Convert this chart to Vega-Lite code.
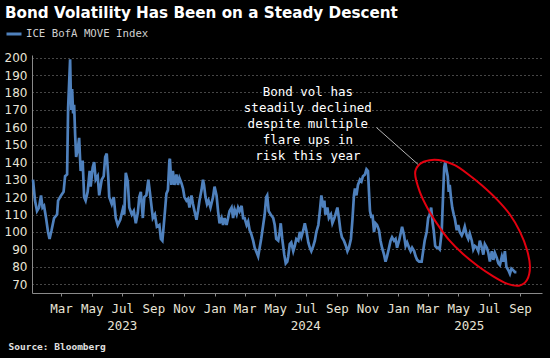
{
  "$schema": "https://vega.github.io/schema/vega-lite/v6.json",
  "width": 510,
  "height": 238,
  "autosize": {"type": "none"},
  "padding": {"left": 32, "top": 55, "right": 8, "bottom": 65},
  "background": "#000000",
  "title": {
    "text": "Bond Volatility Has Been on a Steady Descent",
    "anchor": "start",
    "frame": "group",
    "dx": -27,
    "offset": 4,
    "font": "DejaVu Sans",
    "fontSize": 15.2,
    "fontWeight": "bold",
    "color": "#ffffff"
  },
  "config": {
    "view": {"stroke": null},
    "axisX": {
      "grid": false,
      "domainColor": "#8a8a8a",
      "tickColor": "#8a8a8a",
      "tickSize": 3,
      "labelFont": "DejaVu Sans Mono",
      "labelFontSize": 12.5,
      "labelColor": "#e8e4d6",
      "labelPadding": 6,
      "labelFlush": false,
      "labelOverlap": false
    },
    "axisY": {
      "domainColor": "#8a8a8a",
      "labelFont": "DejaVu Sans",
      "labelFontSize": 12,
      "labelColor": "#e8e4d6"
    }
  },
  "datasets": {
    "move": [
      {"date": "2023-01-04", "v": 130}, {"date": "2023-01-08", "v": 118}, {"date": "2023-01-12", "v": 112}, {"date": "2023-01-16", "v": 114},
      {"date": "2023-01-20", "v": 121}, {"date": "2023-01-23", "v": 114}, {"date": "2023-01-26", "v": 115}, {"date": "2023-01-30", "v": 108},
      {"date": "2023-02-03", "v": 100}, {"date": "2023-02-06", "v": 96}, {"date": "2023-02-10", "v": 101}, {"date": "2023-02-15", "v": 108},
      {"date": "2023-02-21", "v": 110}, {"date": "2023-02-23", "v": 118}, {"date": "2023-03-01", "v": 121}, {"date": "2023-03-06", "v": 123},
      {"date": "2023-03-09", "v": 132}, {"date": "2023-03-13", "v": 133}, {"date": "2023-03-15", "v": 171}, {"date": "2023-03-19", "v": 199},
      {"date": "2023-03-21", "v": 170}, {"date": "2023-03-23", "v": 182}, {"date": "2023-03-25", "v": 168}, {"date": "2023-03-27", "v": 173},
      {"date": "2023-03-29", "v": 156}, {"date": "2023-03-31", "v": 143}, {"date": "2023-04-03", "v": 147}, {"date": "2023-04-06", "v": 154},
      {"date": "2023-04-08", "v": 141}, {"date": "2023-04-09", "v": 135}, {"date": "2023-04-13", "v": 141}, {"date": "2023-04-16", "v": 120},
      {"date": "2023-04-19", "v": 118}, {"date": "2023-04-23", "v": 123}, {"date": "2023-04-27", "v": 135}, {"date": "2023-04-29", "v": 126},
      {"date": "2023-05-03", "v": 137}, {"date": "2023-05-06", "v": 140}, {"date": "2023-05-09", "v": 130}, {"date": "2023-05-13", "v": 132},
      {"date": "2023-05-16", "v": 121}, {"date": "2023-05-21", "v": 130}, {"date": "2023-05-25", "v": 132}, {"date": "2023-05-28", "v": 143},
      {"date": "2023-05-31", "v": 145}, {"date": "2023-06-03", "v": 132}, {"date": "2023-06-05", "v": 120}, {"date": "2023-06-10", "v": 116},
      {"date": "2023-06-14", "v": 120}, {"date": "2023-06-18", "v": 108}, {"date": "2023-06-22", "v": 104}, {"date": "2023-06-27", "v": 107},
      {"date": "2023-07-02", "v": 113}, {"date": "2023-07-05", "v": 110}, {"date": "2023-07-08", "v": 134}, {"date": "2023-07-12", "v": 129},
      {"date": "2023-07-15", "v": 114}, {"date": "2023-07-20", "v": 110}, {"date": "2023-07-24", "v": 112}, {"date": "2023-07-28", "v": 105},
      {"date": "2023-08-01", "v": 111}, {"date": "2023-08-04", "v": 120}, {"date": "2023-08-07", "v": 123}, {"date": "2023-08-11", "v": 108},
      {"date": "2023-08-14", "v": 120}, {"date": "2023-08-18", "v": 121}, {"date": "2023-08-22", "v": 130}, {"date": "2023-08-25", "v": 123},
      {"date": "2023-08-27", "v": 118}, {"date": "2023-08-31", "v": 108}, {"date": "2023-09-04", "v": 110}, {"date": "2023-09-08", "v": 103},
      {"date": "2023-09-13", "v": 104}, {"date": "2023-09-16", "v": 96}, {"date": "2023-09-19", "v": 95}, {"date": "2023-09-23", "v": 108},
      {"date": "2023-09-27", "v": 122}, {"date": "2023-09-30", "v": 124}, {"date": "2023-10-03", "v": 141}, {"date": "2023-10-04", "v": 142},
      {"date": "2023-10-07", "v": 127}, {"date": "2023-10-10", "v": 135}, {"date": "2023-10-13", "v": 127}, {"date": "2023-10-17", "v": 133},
      {"date": "2023-10-20", "v": 127}, {"date": "2023-10-23", "v": 131}, {"date": "2023-10-27", "v": 128}, {"date": "2023-10-30", "v": 125},
      {"date": "2023-11-02", "v": 120}, {"date": "2023-11-06", "v": 118}, {"date": "2023-11-09", "v": 119}, {"date": "2023-11-12", "v": 114},
      {"date": "2023-11-16", "v": 121}, {"date": "2023-11-19", "v": 116}, {"date": "2023-11-22", "v": 112}, {"date": "2023-11-26", "v": 107},
      {"date": "2023-11-29", "v": 112}, {"date": "2023-12-02", "v": 118}, {"date": "2023-12-06", "v": 124}, {"date": "2023-12-09", "v": 130},
      {"date": "2023-12-11", "v": 127}, {"date": "2023-12-14", "v": 120}, {"date": "2023-12-17", "v": 116}, {"date": "2023-12-20", "v": 118},
      {"date": "2023-12-24", "v": 114}, {"date": "2023-12-29", "v": 120}, {"date": "2024-01-01", "v": 126}, {"date": "2024-01-05", "v": 121},
      {"date": "2024-01-08", "v": 112}, {"date": "2024-01-11", "v": 105}, {"date": "2024-01-15", "v": 108}, {"date": "2024-01-18", "v": 104},
      {"date": "2024-01-21", "v": 108}, {"date": "2024-01-25", "v": 104}, {"date": "2024-01-28", "v": 108}, {"date": "2024-01-31", "v": 112},
      {"date": "2024-02-04", "v": 114}, {"date": "2024-02-07", "v": 108}, {"date": "2024-02-10", "v": 113}, {"date": "2024-02-14", "v": 110},
      {"date": "2024-02-17", "v": 114}, {"date": "2024-02-20", "v": 112}, {"date": "2024-02-24", "v": 115}, {"date": "2024-02-27", "v": 108},
      {"date": "2024-03-01", "v": 108}, {"date": "2024-03-05", "v": 104}, {"date": "2024-03-08", "v": 106}, {"date": "2024-03-11", "v": 101},
      {"date": "2024-03-14", "v": 99}, {"date": "2024-03-18", "v": 95}, {"date": "2024-03-21", "v": 91}, {"date": "2024-03-24", "v": 89},
      {"date": "2024-03-28", "v": 86}, {"date": "2024-03-31", "v": 91}, {"date": "2024-04-03", "v": 96}, {"date": "2024-04-07", "v": 104},
      {"date": "2024-04-10", "v": 110}, {"date": "2024-04-13", "v": 120}, {"date": "2024-04-15", "v": 121}, {"date": "2024-04-18", "v": 112},
      {"date": "2024-04-22", "v": 110}, {"date": "2024-04-27", "v": 108}, {"date": "2024-04-30", "v": 104}, {"date": "2024-05-03", "v": 96},
      {"date": "2024-05-07", "v": 95}, {"date": "2024-05-10", "v": 100}, {"date": "2024-05-12", "v": 105}, {"date": "2024-05-15", "v": 96},
      {"date": "2024-05-19", "v": 87}, {"date": "2024-05-22", "v": 82}, {"date": "2024-05-25", "v": 83}, {"date": "2024-05-27", "v": 86},
      {"date": "2024-05-30", "v": 93}, {"date": "2024-06-02", "v": 94}, {"date": "2024-06-06", "v": 89}, {"date": "2024-06-09", "v": 92},
      {"date": "2024-06-12", "v": 96}, {"date": "2024-06-16", "v": 95}, {"date": "2024-06-19", "v": 100}, {"date": "2024-06-22", "v": 97},
      {"date": "2024-06-26", "v": 101}, {"date": "2024-06-29", "v": 105}, {"date": "2024-07-02", "v": 101}, {"date": "2024-07-06", "v": 94},
      {"date": "2024-07-09", "v": 91}, {"date": "2024-07-12", "v": 89}, {"date": "2024-07-16", "v": 92}, {"date": "2024-07-19", "v": 95},
      {"date": "2024-07-22", "v": 100}, {"date": "2024-07-26", "v": 104}, {"date": "2024-07-29", "v": 112}, {"date": "2024-08-01", "v": 121},
      {"date": "2024-08-05", "v": 114}, {"date": "2024-08-07", "v": 118}, {"date": "2024-08-09", "v": 110}, {"date": "2024-08-13", "v": 114},
      {"date": "2024-08-16", "v": 108}, {"date": "2024-08-20", "v": 110}, {"date": "2024-08-23", "v": 105}, {"date": "2024-08-27", "v": 108},
      {"date": "2024-08-29", "v": 110}, {"date": "2024-09-02", "v": 114}, {"date": "2024-09-05", "v": 108}, {"date": "2024-09-08", "v": 101},
      {"date": "2024-09-11", "v": 97}, {"date": "2024-09-15", "v": 95}, {"date": "2024-09-19", "v": 92}, {"date": "2024-09-22", "v": 89},
      {"date": "2024-09-25", "v": 91}, {"date": "2024-09-29", "v": 96}, {"date": "2024-10-02", "v": 107}, {"date": "2024-10-05", "v": 121},
      {"date": "2024-10-07", "v": 125}, {"date": "2024-10-10", "v": 121}, {"date": "2024-10-13", "v": 127}, {"date": "2024-10-17", "v": 130},
      {"date": "2024-10-20", "v": 129}, {"date": "2024-10-23", "v": 132}, {"date": "2024-10-27", "v": 133}, {"date": "2024-10-30", "v": 136},
      {"date": "2024-11-02", "v": 135}, {"date": "2024-11-04", "v": 123}, {"date": "2024-11-06", "v": 112}, {"date": "2024-11-09", "v": 108},
      {"date": "2024-11-11", "v": 110}, {"date": "2024-11-14", "v": 100}, {"date": "2024-11-17", "v": 105}, {"date": "2024-11-20", "v": 104},
      {"date": "2024-11-24", "v": 101}, {"date": "2024-11-27", "v": 95}, {"date": "2024-11-30", "v": 91}, {"date": "2024-12-04", "v": 87},
      {"date": "2024-12-07", "v": 83}, {"date": "2024-12-10", "v": 86}, {"date": "2024-12-14", "v": 91}, {"date": "2024-12-17", "v": 95},
      {"date": "2024-12-20", "v": 97}, {"date": "2024-12-24", "v": 95}, {"date": "2024-12-27", "v": 96}, {"date": "2024-12-30", "v": 91},
      {"date": "2025-01-03", "v": 95}, {"date": "2025-01-06", "v": 99}, {"date": "2025-01-09", "v": 103}, {"date": "2025-01-13", "v": 98},
      {"date": "2025-01-16", "v": 92}, {"date": "2025-01-19", "v": 94}, {"date": "2025-01-23", "v": 91}, {"date": "2025-01-26", "v": 89},
      {"date": "2025-01-29", "v": 91}, {"date": "2025-02-02", "v": 89}, {"date": "2025-02-05", "v": 86}, {"date": "2025-02-08", "v": 84},
      {"date": "2025-02-12", "v": 83}, {"date": "2025-02-17", "v": 83}, {"date": "2025-02-20", "v": 89}, {"date": "2025-02-23", "v": 95},
      {"date": "2025-02-27", "v": 100}, {"date": "2025-03-02", "v": 108}, {"date": "2025-03-05", "v": 110}, {"date": "2025-03-08", "v": 114},
      {"date": "2025-03-11", "v": 105}, {"date": "2025-03-13", "v": 101}, {"date": "2025-03-16", "v": 92}, {"date": "2025-03-19", "v": 91},
      {"date": "2025-03-22", "v": 91}, {"date": "2025-03-25", "v": 90}, {"date": "2025-03-29", "v": 100}, {"date": "2025-04-01", "v": 123},
      {"date": "2025-04-03", "v": 137}, {"date": "2025-04-05", "v": 140}, {"date": "2025-04-08", "v": 135}, {"date": "2025-04-10", "v": 132},
      {"date": "2025-04-12", "v": 123}, {"date": "2025-04-14", "v": 127}, {"date": "2025-04-16", "v": 121}, {"date": "2025-04-19", "v": 114},
      {"date": "2025-04-22", "v": 110}, {"date": "2025-04-24", "v": 108}, {"date": "2025-04-28", "v": 101}, {"date": "2025-05-01", "v": 104},
      {"date": "2025-05-04", "v": 100}, {"date": "2025-05-08", "v": 98}, {"date": "2025-05-11", "v": 100}, {"date": "2025-05-14", "v": 103},
      {"date": "2025-05-18", "v": 98}, {"date": "2025-05-21", "v": 96}, {"date": "2025-05-24", "v": 99}, {"date": "2025-05-28", "v": 95},
      {"date": "2025-05-31", "v": 90}, {"date": "2025-06-03", "v": 92}, {"date": "2025-06-07", "v": 91}, {"date": "2025-06-10", "v": 89},
      {"date": "2025-06-13", "v": 95}, {"date": "2025-06-17", "v": 91}, {"date": "2025-06-20", "v": 87}, {"date": "2025-06-23", "v": 93},
      {"date": "2025-06-27", "v": 91}, {"date": "2025-06-30", "v": 88}, {"date": "2025-07-03", "v": 83}, {"date": "2025-07-07", "v": 89},
      {"date": "2025-07-10", "v": 84}, {"date": "2025-07-13", "v": 88}, {"date": "2025-07-17", "v": 85}, {"date": "2025-07-20", "v": 82},
      {"date": "2025-07-23", "v": 81}, {"date": "2025-07-27", "v": 86}, {"date": "2025-07-30", "v": 83}, {"date": "2025-08-02", "v": 89},
      {"date": "2025-08-05", "v": 80}, {"date": "2025-08-09", "v": 78}, {"date": "2025-08-12", "v": 76}, {"date": "2025-08-15", "v": 79},
      {"date": "2025-08-19", "v": 78}, {"date": "2025-08-22", "v": 77}, {"date": "2025-08-25", "v": 77}
    ],
    "ellipse": [
      {"i": 1, "date": "2025-02-04", "v": 133.7}, {"i": 2, "date": "2025-02-13", "v": 138.9}, {"i": 3, "date": "2025-03-05", "v": 141.2},
      {"i": 4, "date": "2025-03-31", "v": 140.9}, {"i": 5, "date": "2025-04-24", "v": 138.3}, {"i": 6, "date": "2025-05-18", "v": 133.7},
      {"i": 7, "date": "2025-06-17", "v": 126.8}, {"i": 8, "date": "2025-07-17", "v": 118.7}, {"i": 9, "date": "2025-08-12", "v": 110},
      {"i": 10, "date": "2025-09-01", "v": 100.2}, {"i": 11, "date": "2025-09-15", "v": 89.8}, {"i": 12, "date": "2025-09-21", "v": 80},
      {"i": 13, "date": "2025-09-15", "v": 72.4}, {"i": 14, "date": "2025-08-30", "v": 69.2}, {"i": 15, "date": "2025-08-06", "v": 70.4},
      {"i": 16, "date": "2025-07-09", "v": 74.7}, {"i": 17, "date": "2025-06-09", "v": 80.5}, {"i": 18, "date": "2025-05-10", "v": 87.5},
      {"i": 19, "date": "2025-04-12", "v": 95.6}, {"i": 20, "date": "2025-03-21", "v": 104.2}, {"i": 21, "date": "2025-03-01", "v": 113.5},
      {"i": 22, "date": "2025-02-13", "v": 123.3}
    ],
    "arrow": [
      {"date": "2024-11-19", "v": 159.9, "date2": "2025-02-10", "v2": 138.7}
    ],
    "note": [
      {"date": "2024-07-05", "v": 180.3, "label": ["Bond vol has", "steadily declined", "despite multiple", "flare ups in", "risk this year"]}
    ],
    "years": [
      {"date": "2023-07-01", "label": "2023"},
      {"date": "2024-07-01", "label": "2024"},
      {"date": "2025-05-23", "label": "2025"}
    ]
  },
  "layer": [
    {
      "data": {"name": "move"},
      "mark": {"type": "line", "strokeWidth": 2.7, "interpolate": "linear"},
      "encoding": {
        "x": {
          "field": "date",
          "type": "temporal",
          "title": null,
          "scale": {
            "type": "utc",
            "domain": [
              {"year": 2023, "month": 1, "date": 2, "utc": true},
              {"year": 2025, "month": 10, "date": 15, "utc": true}
            ]
          },
          "axis": {"format": "%b", "tickCount": {"interval": "month", "step": 2}}
        },
        "y": {
          "field": "v",
          "type": "quantitative",
          "scale": {"domain": [65, 201.5], "nice": false, "zero": false},
          "axis": {
            "values": [70, 80, 90, 100, 110, 120, 130, 140, 150, 160, 170, 180, 190, 200],
            "tickCount": 20,
            "labelOverlap": false,
            "labelBound": false,
            "grid": true,
            "gridColor": "#8c8c8c",
            "gridOpacity": 1,
            "gridDash": [1, 3],
            "gridWidth": 1,
            "ticks": false,
            "labelPadding": 5,
            "domain": true,
            "title": "Source: Bloomberg",
            "titleAngle": 0,
            "titleX": -24,
            "titleY": 291.7,
            "titleAlign": "left",
            "titleBaseline": "middle",
            "titleFont": "DejaVu Sans Mono",
            "titleFontSize": 9.5,
            "titleFontWeight": "bold",
            "titleColor": "#e0e0e0"
          }
        },
        "color": {
          "datum": "ICE BofA MOVE Index",
          "scale": {"range": ["#4f81bd"]},
          "legend": {
            "orient": "none",
            "legendX": -27,
            "legendY": -30,
            "title": null,
            "symbolType": "stroke",
            "symbolStrokeWidth": 3,
            "symbolSize": 225,
            "labelFont": "DejaVu Sans Mono",
            "labelFontSize": 10.7,
            "labelColor": "#d0d0d0",
            "labelOffset": 3
          }
        }
      }
    },
    {
      "data": {"name": "ellipse"},
      "mark": {"type": "line", "color": "#e3000f", "strokeWidth": 2, "interpolate": "cardinal-closed"},
      "encoding": {
        "x": {"field": "date", "type": "temporal", "title": null},
        "y": {"field": "v", "type": "quantitative"},
        "order": {"field": "i", "type": "quantitative"}
      }
    },
    {
      "data": {"name": "arrow"},
      "mark": {"type": "rule", "color": "#b4b4b4", "strokeWidth": 1},
      "encoding": {
        "x": {"field": "date", "type": "temporal", "title": null},
        "x2": {"field": "date2"},
        "y": {"field": "v", "type": "quantitative"},
        "y2": {"field": "v2"}
      }
    },
    {
      "data": {"name": "note"},
      "mark": {"type": "text", "font": "DejaVu Sans Mono", "fontSize": 12.5, "color": "#ffffff", "align": "center", "baseline": "middle", "lineHeight": 16},
      "encoding": {
        "x": {"field": "date", "type": "temporal", "title": null},
        "y": {"field": "v", "type": "quantitative"},
        "text": {"field": "label", "type": "nominal"}
      }
    },
    {
      "data": {"name": "years"},
      "mark": {"type": "text", "font": "DejaVu Sans Mono", "fontSize": 12.5, "color": "#e8e4d6", "align": "center", "baseline": "middle", "dy": 33},
      "encoding": {
        "x": {"field": "date", "type": "temporal", "title": null},
        "y": {"datum": 65, "type": "quantitative"},
        "text": {"field": "label", "type": "nominal"}
      }
    }
  ]
}
